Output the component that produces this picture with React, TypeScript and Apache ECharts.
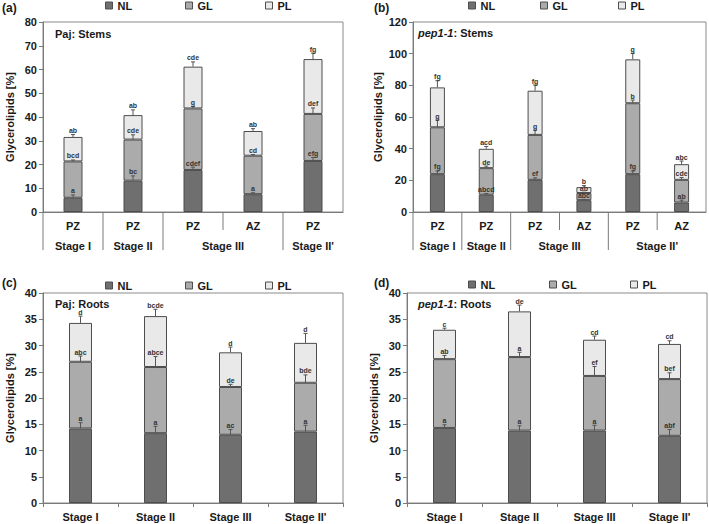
import React, { useEffect, useRef } from "react";
import * as echarts from "echarts";

const FONT = "'Liberation Sans', Arial, Helvetica, sans-serif";
const seriesNames = ["NL", "GL", "PL"];
const seriesColors = ["#6f6f6f", "#ababab", "#e9e9e9"];

// (a) Paj: Stems
const aZones = ["PZ", "PZ", "PZ", "AZ", "PZ"];
const aStageNames = ["Stage I", "Stage II", "Stage III", "Stage II'"];
const aStageSpans = [1, 1, 2, 1];
const aNL = [6.0, 13.2, 17.7, 7.5, 21.5];
const aGL = [15.3, 17.3, 25.9, 16.2, 19.8];
const aPL = [10.3, 10.3, 17.6, 10.4, 23.1];
const aNLerr = [1.2, 2.0, 1.2, 0.6, 1.5];
const aGLerr = [0.6, 2.0, 0.8, 0.5, 2.5];
const aPLerr = [1.0, 2.2, 2.0, 1.0, 2.5];
const aNLsig = ["a", "bc", "cdef", "a", "efg"];
const aGLsig = ["bcd", "cde", "g", "cd", "def"];
const aPLsig = ["ab", "ab", "cde", "ab", "fg"];

// (b) pep1-1: Stems
const bZones = ["PZ", "PZ", "PZ", "AZ", "PZ", "AZ"];
const bStageNames = ["Stage I", "Stage II", "Stage III", "Stage II'"];
const bStageSpans = [1, 1, 2, 2];
const bNL = [23.9, 10.9, 20.3, 7.5, 23.9, 6.0];
const bGL = [29.6, 16.8, 28.4, 4.5, 44.8, 14.3];
const bPL = [25.2, 12.2, 27.9, 3.7, 27.7, 9.9];
const bNLerr = [2.0, 0.8, 1.3, 0.5, 2.0, 1.5];
const bGLerr = [4.6, 1.3, 3.0, 0.5, 2.0, 1.5];
const bPLerr = [4.2, 1.5, 3.6, 1.0, 3.8, 2.0];
const bNLsig = ["fg", "abcd", "ef", "abc", "fg", "ab"];
const bGLsig = ["g", "de", "g", "ab", "b", "cde"];
const bPLsig = ["fg", "acd", "fg", "b", "g", "abc"];

// (c) Paj: Roots
const cStages = ["Stage I", "Stage II", "Stage III", "Stage II'"];
const cNL = [14.2, 13.3, 13.0, 13.6];
const cGL = [12.7, 12.6, 9.1, 9.3];
const cPL = [7.4, 9.7, 6.6, 7.6];
const cNLerr = [1.1, 1.3, 1.0, 1.2];
const cGLerr = [1.1, 2.0, 0.5, 1.5];
const cPLerr = [1.3, 1.3, 1.0, 1.8];
const cNLsig = ["a", "a", "ac", "a"];
const cGLsig = ["abc", "abce", "de", "bde"];
const cPLsig = ["d", "bcde", "d", "d"];

// (d) pep1-1: Roots
const dStages = ["Stage I", "Stage II", "Stage III", "Stage II'"];
const dNL = [14.3, 13.8, 13.8, 12.8];
const dGL = [13.1, 14.0, 10.4, 10.8];
const dPL = [5.6, 8.7, 6.9, 6.7];
const dNLerr = [0.6, 0.9, 1.0, 1.2];
const dGLerr = [0.7, 0.9, 1.8, 1.2];
const dPLerr = [0.3, 1.2, 0.7, 0.6];
const dNLsig = ["a", "a", "a", "abf"];
const dGLsig = ["ab", "a", "ef", "bef"];
const dPLsig = ["c", "de", "cd", "cd"];

const AXIS_COLOR = "#7a7a7a";
const TEXT_COLOR = "#1a1a1a";
const SIG_COLOR = "#333333";

function buildOption() {
  const opt: any = {
    animation: false,
    color: seriesColors,
    textStyle: { fontFamily: FONT },
    grid: [],
    xAxis: [],
    yAxis: [],
    series: [],
    legend: [],
    graphic: [],
  };

  const addPanel = (c: any) => {
    const gi = opt.grid.length;
    opt.grid.push({
      ...c.grid,
      show: true,
      borderColor: "#8a8a8a",
      borderWidth: 1,
      backgroundColor: "transparent",
    });
    const xi = opt.xAxis.length;
    opt.xAxis.push({
      type: "category",
      gridIndex: gi,
      position: "bottom",
      data: c.cats,
      axisLine: { show: true, lineStyle: { color: AXIS_COLOR } },
      axisTick: { show: !c.stageSpans, length: 4, lineStyle: { color: AXIS_COLOR } },
      axisLabel: {
        interval: 0,
        margin: 8,
        fontSize: 11,
        fontWeight: "bold",
        color: TEXT_COLOR,
        fontFamily: FONT,
      },
    });
    const yi = opt.yAxis.length;
    opt.yAxis.push({
      type: "value",
      gridIndex: gi,
      min: 0,
      max: c.yMax,
      interval: c.yInterval,
      name: "Glycerolipids [%]",
      nameLocation: "middle",
      nameGap: c.nameGap,
      nameTextStyle: { fontSize: 11, fontWeight: "bold", color: TEXT_COLOR, fontFamily: FONT },
      axisLine: { show: true, lineStyle: { color: AXIS_COLOR } },
      axisTick: { show: true, length: 4, lineStyle: { color: AXIS_COLOR } },
      splitLine: { show: false },
      axisLabel: { margin: 6, fontSize: 11, fontWeight: "bold", color: TEXT_COLOR, fontFamily: FONT },
    });
    const vals = [c.nl, c.gl, c.pl];
    vals.forEach((v: number[], k: number) => {
      opt.series.push({
        type: "bar",
        name: seriesNames[k],
        xAxisIndex: xi,
        yAxisIndex: yi,
        stack: "s" + gi,
        data: v,
        barWidth: c.barWidth,
        itemStyle: { color: seriesColors[k], borderColor: "#4d4d4d", borderWidth: 1 },
        z: 2,
      });
    });
    const errData: number[][] = [];
    const errLbl: string[] = [];
    c.cats.forEach((_: string, i: number) => {
      let base = 0;
      for (let k = 0; k < 3; k++) {
        const top = base + vals[k][i];
        errData.push([i, top, top + c.errs[k][i]]);
        errLbl.push(c.sigs[k][i]);
        base = top;
      }
    });
    opt.series.push({
      type: "custom",
      xAxisIndex: xi,
      yAxisIndex: yi,
      data: errData,
      z: 6,
      clip: false,
      itemStyle: { color: SIG_COLOR },
      encode: { x: 0, y: [1, 2] },
      renderItem: (params: any, api: any) => {
        const x = api.value(0);
        const p0 = api.coord([x, api.value(1)]);
        const p1 = api.coord([x, api.value(2)]);
        return {
          type: "group",
          children: [
            { type: "line", shape: { x1: p0[0], y1: p0[1], x2: p1[0], y2: p1[1] }, style: { stroke: "#555", lineWidth: 1 } },
            { type: "line", shape: { x1: p1[0] - 2, y1: p1[1], x2: p1[0] + 2, y2: p1[1] }, style: { stroke: "#555", lineWidth: 1 } },
            {
              type: "text",
              x: p1[0],
              y: p1[1] - 0.5,
              style: {
                text: errLbl[params.dataIndex],
                fontSize: 7,
                fontWeight: "bold",
                fontFamily: FONT,
                fill: SIG_COLOR,
                textFill: SIG_COLOR,
                align: "center",
                verticalAlign: "bottom",
              },
            },
          ],
        };
      },
    });

    if (c.stageSpans) {
      const n = c.cats.length;
      const centers: Record<string, string> = {};
      const seps: number[][] = [];
      let pos = 0;
      c.stageSpans.forEach((s: number, j: number) => {
        centers[String(pos + s / 2)] = c.stageNames[j];
        seps.push([pos, 1]);
        for (let t = 1; t < s; t++) seps.push([pos + t, 0]);
        pos += s;
      });
      const sxi = opt.xAxis.length;
      opt.xAxis.push({
        type: "value",
        gridIndex: gi,
        position: "bottom",
        min: 0,
        max: n,
        interval: 0.5,
        axisLine: { show: false },
        axisTick: { show: false },
        splitLine: { show: false },
        axisLabel: {
          margin: 28,
          showMinLabel: true,
          showMaxLabel: true,
          fontSize: 11,
          fontWeight: "bold",
          color: TEXT_COLOR,
          fontFamily: FONT,
          formatter: (v: number) => centers[String(v)] ?? "",
        },
      });
      opt.series.push({
        type: "custom",
        xAxisIndex: sxi,
        yAxisIndex: yi,
        data: seps,
        clip: false,
        z: 3,
        itemStyle: { color: AXIS_COLOR },
        encode: { x: 0 },
        renderItem: (params: any, api: any) => {
          const p = api.coord([api.value(0), 0]);
          const len = api.value(1) ? 38 : 18;
          return {
            type: "line",
            shape: { x1: p[0], y1: p[1], x2: p[0], y2: p[1] + len },
            style: { stroke: AXIS_COLOR, lineWidth: 1 },
          };
        },
      });
    }

    c.legendLefts.forEach((lx: number, k: number) => {
      opt.legend.push({
        data: [seriesNames[k]],
        left: lx,
        top: c.legendTop,
        padding: 0,
        icon: "rect",
        itemWidth: 7,
        itemHeight: 7,
        itemTextGap: 2,
        selectedMode: false,
        itemStyle: { borderColor: "#4d4d4d", borderWidth: 1 },
        textStyle: { fontSize: 11, fontWeight: "bold", color: TEXT_COLOR, fontFamily: FONT },
      });
    });

    opt.graphic.push({
      type: "text",
      x: c.tag[1],
      y: c.tag[2],
      style: { text: c.tag[0], fontSize: 12, fontWeight: "bold", fontFamily: FONT, fill: TEXT_COLOR, verticalAlign: "middle" },
    });
    opt.graphic.push({
      type: "text",
      x: c.title[1],
      y: c.title[2],
      style: {
        text: c.title[0],
        fontSize: 11,
        fontWeight: "bold",
        fontFamily: FONT,
        fill: TEXT_COLOR,
        verticalAlign: "middle",
        rich: {
          i: { fontStyle: "italic", fontWeight: "bold", fontSize: 11, fontFamily: FONT, fill: TEXT_COLOR },
          n: { fontWeight: "bold", fontSize: 11, fontFamily: FONT, fill: TEXT_COLOR },
        },
      },
    });
  };

  addPanel({
    grid: { left: 43, top: 22, width: 300, height: 190 },
    cats: aZones, stageNames: aStageNames, stageSpans: aStageSpans,
    nl: aNL, gl: aGL, pl: aPL,
    errs: [aNLerr, aGLerr, aPLerr], sigs: [aNLsig, aGLsig, aPLsig],
    yMax: 80, yInterval: 10, barWidth: 19, nameGap: 28,
    legendLefts: [105, 185, 265], legendTop: 0,
    tag: ["(a)", 2, 8], title: ["Paj: Stems", 55, 34],
  });
  addPanel({
    grid: { left: 413, top: 22, width: 294, height: 190 },
    cats: bZones, stageNames: bStageNames, stageSpans: bStageSpans,
    nl: bNL, gl: bGL, pl: bPL,
    errs: [bNLerr, bGLerr, bPLerr], sigs: [bNLsig, bGLsig, bPLsig],
    yMax: 120, yInterval: 20, barWidth: 15, nameGap: 30,
    legendLefts: [468, 540, 618], legendTop: 0,
    tag: ["(b)", 374, 8], title: ["{i|pep1-1}{n|: Stems}", 418, 33],
  });
  addPanel({
    grid: { left: 43, top: 293, width: 300, height: 210 },
    cats: cStages,
    nl: cNL, gl: cGL, pl: cPL,
    errs: [cNLerr, cGLerr, cPLerr], sigs: [cNLsig, cGLsig, cPLsig],
    yMax: 40, yInterval: 5, barWidth: 23, nameGap: 28,
    legendLefts: [105, 185, 265], legendTop: 280,
    tag: ["(c)", 2, 283], title: ["Paj: Roots", 55, 304],
  });
  addPanel({
    grid: { left: 407, top: 293, width: 300, height: 210 },
    cats: dStages,
    nl: dNL, gl: dGL, pl: dPL,
    errs: [dNLerr, dGLerr, dPLerr], sigs: [dNLsig, dGLsig, dPLsig],
    yMax: 40, yInterval: 5, barWidth: 23, nameGap: 28,
    legendLefts: [468, 549, 630], legendTop: 279,
    tag: ["(d)", 374, 283], title: ["{i|pep1-1}{n|: Roots}", 418, 304],
  });

  return opt;
}

export default function App() {
  const ref = useRef<HTMLDivElement>(null);
  useEffect(() => {
    if (!ref.current) return;
    const chart = echarts.init(ref.current, undefined, { renderer: "svg" });
    chart.setOption(buildOption());
    return () => chart.dispose();
  }, []);
  return (
    <div
      ref={ref}
      style={{ position: "absolute", left: 0, top: 0, width: 709, height: 524, background: "#fff" }}
    />
  );
}
